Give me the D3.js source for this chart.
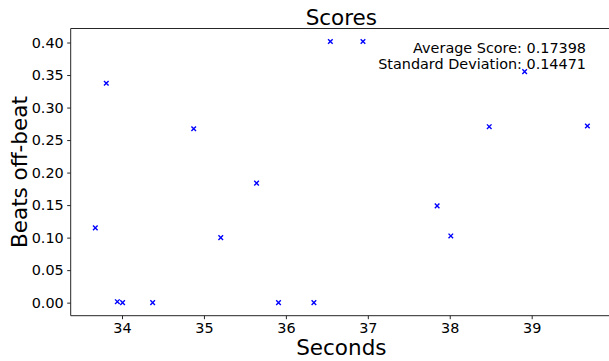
<!DOCTYPE html>
<html>
<head>
<meta charset="utf-8">
<script src="https://cdn.jsdelivr.net/npm/d3@7"></script>
<style>
	body { margin: 0; background: #fff; }
	svg { display: block; font-family: "DejaVu Sans", sans-serif; }
</style>
</head>
<body>
<svg id="chart"></svg>
<script>
// data
const seconds = [33.674, 33.808, 33.943, 34.007, 34.374, 34.875, 35.205, 35.642, 35.910,
	36.342, 36.543, 36.941, 37.846, 38.013, 38.482, 38.914, 39.680];
const scores = [0.115, 0.3374, 0.0015, 0.0, 0.0, 0.2675, 0.100, 0.1838, 0.0,
	0.0, 0.4015, 0.4015, 0.1488, 0.1026, 0.2706, 0.3553, 0.2717];
const x_ticks = [34, 35, 36, 37, 38, 39];
const y_ticks = [0, 0.05, 0.10, 0.15, 0.20, 0.25, 0.30, 0.35, 0.40];
const stats_lines = ["Average Score: 0.17398", "Standard Deviation: 0.14471"];

const params = {
	width: 609,
	height: 361,
	left: 70.7,
	right: 612,
	top: 28.5,
	bottom: 315.7,
	margin: 0.05, // matplotlib-like autoscale padding
	marker: 2.3,
	color: "#0000ff"
};

const svg = d3.select("#chart")
	.attr("width", params.width)
	.attr("height", params.height);

function padded(ext) {
	const pad = (ext[1] - ext[0]) * params.margin;
	return [ext[0] - pad, ext[1] + pad];
}

const x = d3.scaleLinear().domain(padded(d3.extent(seconds))).range([params.left, params.right]),
	y = d3.scaleLinear().domain(padded(d3.extent(scores))).range([params.bottom, params.top]);

// axes
const x_axis = svg.append("g")
	.attr("transform", `translate(0,${params.bottom})`)
	.call(d3.axisBottom(x).tickValues(x_ticks).tickFormat(d3.format("d")).tickSize(3.5).tickPadding(3.5));
const y_axis = svg.append("g")
	.attr("transform", `translate(${params.left},0)`)
	.call(d3.axisLeft(y).tickValues(y_ticks).tickFormat(d3.format(".2f")).tickSize(3.5).tickPadding(3.5));

[x_axis, y_axis].forEach(a => {
	a.attr("font-family", null).attr("font-size", 14.4);
	a.selectAll("text").attr("fill", "#000");
	a.selectAll("line, path").attr("stroke", "#262626").attr("stroke-width", 1);
});
// no end caps on the spines
x_axis.select("path").attr("d", `M${params.left},0H${params.right}`);
y_axis.select("path").attr("d", `M0,${params.bottom}V${params.top}`);

// top spine
svg.append("line")
	.attr("x1", params.left).attr("x2", params.right)
	.attr("y1", params.top).attr("y2", params.top)
	.attr("stroke", "#262626").attr("stroke-width", 1);

// markers, drawn as x
svg.append("g").selectAll("path")
	.data(seconds.map((s, i) => ({s: s, v: scores[i]})))
	.join("path")
	.attr("transform", d => `translate(${x(d.s)},${y(d.v)})`)
	.attr("d", () => {
		const m = params.marker;
		return `M${-m},${-m}L${m},${m}M${-m},${m}L${m},${-m}`;
	})
	.attr("stroke", params.color)
	.attr("stroke-width", 1.4)
	.attr("fill", "none");

// title and labels
svg.append("text")
	.attr("x", (params.left + params.right) / 2)
	.attr("y", 24.5)
	.attr("text-anchor", "middle")
	.attr("font-size", 21.5)
	.text("Scores");

svg.append("text")
	.attr("x", (params.left + params.right) / 2)
	.attr("y", 354.5)
	.attr("text-anchor", "middle")
	.attr("font-size", 21.5)
	.text("Seconds");

svg.append("text")
	.attr("transform", `translate(26.5,${(params.top + params.bottom) / 2}) rotate(-90)`)
	.attr("text-anchor", "middle")
	.attr("font-size", 21.5)
	.text("Beats off-beat");

// stats box in the upper right
svg.append("g").selectAll("text")
	.data(stats_lines)
	.join("text")
	.attr("x", 586)
	.attr("y", (d, i) => 53.3 + i * 16)
	.attr("text-anchor", "end")
	.attr("font-size", 14.4)
	.text(d => d);
</script>
</body>
</html>
